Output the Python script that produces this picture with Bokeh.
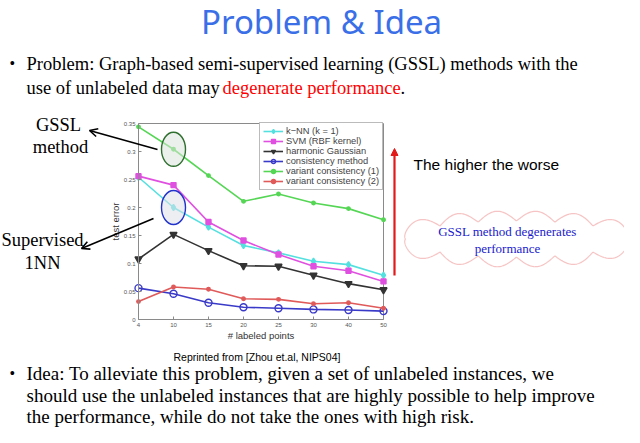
import numpy as np
from bokeh.plotting import figure
from bokeh.models import (Label, Legend, LegendItem, LinearAxis, Arrow, NormalHead,
                          OpenHead, PolyAnnotation, FixedTicker, Range1d)
from bokeh.embed import file_html
from bokeh.resources import INLINE

# ---------------- data ----------------
labeled_points = [4, 10, 15, 20, 25, 30, 40, 50]
knn = [0.254, 0.200, 0.165, 0.132, 0.119, 0.104, 0.098, 0.079]
svm = [0.256, 0.240, 0.174, 0.141, 0.116, 0.095, 0.087, 0.068]
harmonic = [0.108, 0.152, 0.123, 0.096, 0.095, 0.079, 0.064, 0.053]
consistency = [0.056, 0.046, 0.030, 0.022, 0.020, 0.018, 0.017, 0.015]
variant1 = [0.344, 0.304, 0.257, 0.211, 0.224, 0.208, 0.198, 0.178]
variant2 = [0.032, 0.058, 0.054, 0.037, 0.036, 0.028, 0.030, 0.020]
y_ticks = [0, 0.05, 0.1, 0.15, 0.2, 0.25, 0.3, 0.35]
series_names = ["k\u2212NN (k = 1)", "SVM (RBF kernel)", "harmonic Gaussian",
                "consistency method", "variant consistency (1)", "variant consistency (2)"]

positions = list(range(len(labeled_points)))
Y_MAX = y_ticks[-1]

# ---------------- picture geometry (pixels) ----------------
W, H = 624, 427
CL, CR, CT, CB = 138, 383, 123, 319   # chart box in picture pixels

x_per_px = (positions[-1] - positions[0]) / (CR - CL)
y_per_px = Y_MAX / (CB - CT)
x_start = positions[0] - CL * x_per_px
x_end = positions[-1] + (W - CR) * x_per_px
y_start = 0 - (H - CB) * y_per_px
y_end = Y_MAX + CT * y_per_px

p = figure(width=W, height=H, output_backend="svg", toolbar_location=None,
           x_range=Range1d(x_start, x_end), y_range=Range1d(y_start, y_end),
           x_axis_location=None, y_axis_location=None,
           min_border=0, min_border_left=0, min_border_right=0,
           min_border_top=0, min_border_bottom=0,
           background_fill_color="white", border_fill_color="white",
           outline_line_color=None)
p.grid.visible = False

AXC = "#8a8a8a"
common = dict(major_tick_in=3, major_tick_out=0, minor_tick_line_color=None,
              axis_line_color=AXC, major_tick_line_color=AXC,
              major_label_text_font_size="6px", major_label_text_color="#555555",
              major_label_text_font="Liberation Sans", major_label_standoff=3,
              axis_label_text_font="Liberation Sans", axis_label_text_font_style="normal",
              axis_label_text_font_size="9.5px", axis_label_text_color="#333333",
              axis_label_standoff=0)

xax = LinearAxis(fixed_location=0, bounds=(positions[0], positions[-1]),
                 ticker=FixedTicker(ticks=positions),
                 major_label_overrides={i: str(v) for i, v in zip(positions, labeled_points)},
                 axis_label="# labeled points", **common)
yax = LinearAxis(fixed_location=positions[0], bounds=(0, Y_MAX),
                 ticker=FixedTicker(ticks=y_ticks),
                 major_label_overrides={t: f"{t:g}" for t in y_ticks},
                 axis_label="test error", **common)
p.add_layout(xax, "below")
p.add_layout(yax, "left")

# box (top and right sides of the chart frame)
p.segment(x0=[positions[0], positions[-1]], y0=[Y_MAX, 0],
          x1=[positions[-1], positions[-1]], y1=[Y_MAX, Y_MAX],
          line_color=AXC, line_width=1)

colors = ["#55e0e0", "#e050e0", "#333333", "#3a3ac8", "#55d655", "#e05a5a"]
markers = ["diamond", "square", "inverted_triangle", "circle", "circle", "circle"]
sizes = [6, 5, 7, 7, 3.5, 3.5]
fills = [True, True, True, False, True, True]
data = [knn, svm, harmonic, consistency, variant1, variant2]

items = []
for name, ys, c, m, s, f in zip(series_names, data, colors, markers, sizes, fills):
    lr = p.line(positions, ys, line_color=c, line_width=1.6)
    sr = p.scatter(positions, ys, marker=m, size=s, line_color=c, line_width=1.4,
                   fill_color=c if f else None)
    items.append(LegendItem(label=name, renderers=[lr, sr]))

# highlight ellipses
p.ellipse(x=[positions[1]], y=[variant1[1]], width=24, height=34,
          width_units="screen", height_units="screen",
          fill_color="#dde3dd", fill_alpha=0.55, line_color="#2f6f2f", line_width=1.4)
p.ellipse(x=[positions[1]], y=[knn[1]], width=24, height=34,
          width_units="screen", height_units="screen",
          fill_color="#dde0e8", fill_alpha=0.55, line_color="#2233cc", line_width=1.4)

# legend: left edge at x 259, bottom edge at y 190
legend = Legend(items=items, location=(259, H - 190), margin=0, padding=3, spacing=0,
                label_text_font="Liberation Sans", label_text_font_size="9.3px",
                label_height=10, glyph_height=10, glyph_width=20, label_standoff=3,
                border_line_color="#777777", background_fill_color="white",
                background_fill_alpha=1)
p.add_layout(legend)


def sx(px):
    return px


def sy(py):
    return H - py


def lab(px, py, text, size, color="black", font="Liberation Serif", align="left",
        baseline="middle"):
    p.add_layout(Label(x=sx(px), y=sy(py), x_units="screen", y_units="screen", text=text,
                       text_font=font, text_font_size=f"{size}px", text_color=color,
                       text_align=align, text_baseline=baseline))


# arrows
p.add_layout(Arrow(x_start=sx(157), y_start=sy(149), x_end=sx(89), y_end=sy(130),
                   start_units="screen", end_units="screen", line_width=1.6,
                   end=OpenHead(size=8, line_width=1.6)))
p.add_layout(Arrow(x_start=sx(153), y_start=sy(218), x_end=sx(81), y_end=sy(248),
                   start_units="screen", end_units="screen", line_width=1.6,
                   end=OpenHead(size=8, line_width=1.6)))
p.add_layout(Arrow(x_start=sx(394), y_start=sy(275), x_end=sx(394), y_end=sy(148),
                   start_units="screen", end_units="screen", line_width=2.2, line_color="#e31a1a",
                   end=NormalHead(size=7, fill_color="#e31a1a", line_color="#e31a1a")))

# cloud
cx, cy, rx, ry, amp, nb = 516, 238.5, 111, 18, 10, 12
t = np.linspace(0, 2 * np.pi, 600)
ex_, ey_ = rx * np.cos(t), ry * np.sin(t)
seg = np.hypot(np.diff(ex_), np.diff(ey_))
s_len = np.concatenate([[0], np.cumsum(seg)])
bump = amp * np.abs(np.sin(np.pi * nb * s_len / s_len[-1]))
nx, ny = np.cos(t) / rx, np.sin(t) / ry
nn = np.hypot(nx, ny)
cxs = cx + ex_ + bump * nx / nn
cys = cy + ey_ + bump * ny / nn
p.add_layout(PolyAnnotation(xs=[sx(v) for v in cxs], ys=[sy(v) for v in cys],
                            xs_units="screen", ys_units="screen",
                            fill_color="white", fill_alpha=1,
                            line_color="#e03a3a", line_width=1.2))

# texts
lab(321, 21, "Problem & Idea", 33, color="#3a6fe8", font="Noto Sans", align="center")
lab(9, 63, "\u2022", 16)
lab(26, 63, "Problem: Graph-based semi-supervised learning (GSSL) methods with the", 18.5)
lab(26, 87, "use of unlabeled data may", 18.5)
lab(222, 87, "degenerate performance", 18.5, color="#ff0000")
lab(400, 87, ".", 18.5)

lab(58, 124, "GSSL", 18.5, align="center")
lab(60, 146, "method", 18.5, align="center")
lab(42, 239, "Supervised", 18.5, align="center")
lab(42, 262, "1NN", 18.5, align="center")

lab(413, 164, "The higher the worse", 15.5, font="Liberation Sans")
lab(507, 231, "GSSL method degenerates", 13, color="#1a1acc", align="center")
lab(507, 248, "performance", 13, color="#1a1acc", align="center")

lab(173, 356, "Reprinted from [Zhou et.al, NIPS04]", 10.5, font="Liberation Sans")

lab(9, 373, "\u2022", 16)
lab(26, 373, "Idea: To alleviate this problem, given a set of unlabeled instances, we", 19)
lab(26, 395, "should use the unlabeled instances that are highly possible to help improve", 19)
lab(26, 416, "the performance, while do not take the ones with high risk.", 19)

open("out.html", "w").write(file_html(p, INLINE))
